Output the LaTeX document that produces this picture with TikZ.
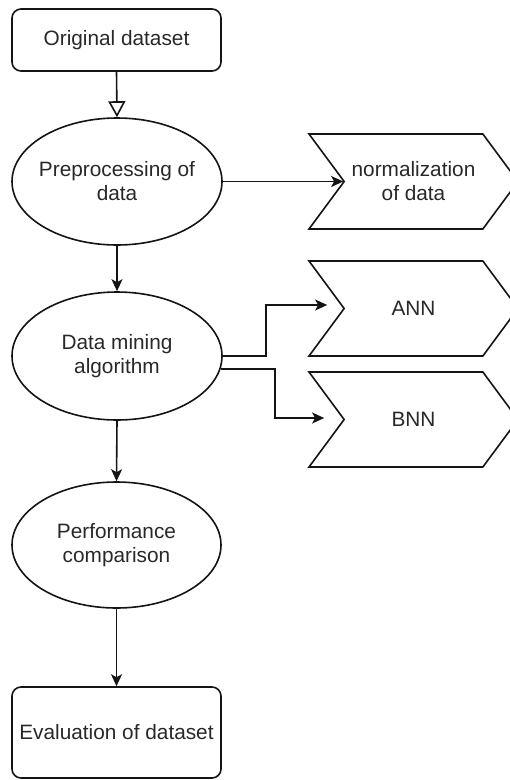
\documentclass[tikz,border=0pt]{standalone}
\usepackage{fontspec}
\setmainfont{Liberation Sans}
\usepackage{tikz}
\usetikzlibrary{
    shapes, shapes.symbols, shapes.geometric,
    arrows.meta, positioning, calc
}
\definecolor{colTxt}{RGB}{40, 40, 40}
\definecolor{colLine}{RGB}{20, 20, 20}

\begin{document}
\begin{tikzpicture}[x=1pt, y=-1pt,
    every node/.style={font=\fontsize{20.8}{24}\selectfont, text=colTxt, align=center},
    procbox/.style={draw=colLine, line width=1.6pt, rounded corners=9pt, minimum width=209pt, inner sep=0pt},
    stage/.style={ellipse, draw=colLine, line width=1.6pt, minimum width=210pt, minimum height=127pt, inner xsep=-5pt, inner ysep=0pt},
    tag/.style={signal, signal from=west, signal to=east, signal pointer angle=107, draw=colLine, line width=1.6pt, minimum width=209pt, minimum height=95pt, inner sep=0pt},
    flow/.style={draw=colLine, line width=1.6pt, -{Stealth[length=12pt, width=11pt, inset=3pt]}}
]
    \useasboundingbox (0, 0) rectangle (510, 780);

    % --- Kolom kiri ---
    \node[procbox, minimum height=62pt] (orig) at (116.5, 40) {Original dataset};
    \node[stage] (prep) at (117, 181.5) {Preprocessing of\\data};
    \node[stage, minimum height=128pt] (mine) at (117, 356) {Data mining\\algorithm};
    \node[stage, minimum width=209pt, minimum height=126pt] (perf) at (116.5, 545) {Performance\\comparison};
    \node[procbox, minimum height=91pt] (eval) at (116.5, 732.5) {Evaluation of dataset};

    % --- Kolom kanan ---
    \node[tag] (norm) at (413.5, 181.5) {normalization\\of data};
    \node[tag] (ann) at (413.5, 308.5) {ANN};
    \node[tag] (bnn) at (413.5, 419.5) {BNN};

    % --- Panah ---
    \draw[draw=colLine, line width=1.6pt, -{Triangle[open, length=16pt, width=17pt, fill=white]}] (orig.south) -- (prep.north);
    \draw[flow] (prep.south) -- (mine.north);
    \draw[flow] (mine.south) -- (perf.north);
    \draw[flow] (perf.south) -- (eval.north);
    \draw[flow] (prep.east) -- (norm.west);
    \draw[flow] (mine.east) -- ++(43, 0) |- ([xshift=-16pt, yshift=3.5pt]ann.west);
    \draw[flow] (mine.-7.8) -- ++(54, 0) |- ([xshift=-19pt, yshift=1.5pt]bnn.west);
\end{tikzpicture}
\end{document}
